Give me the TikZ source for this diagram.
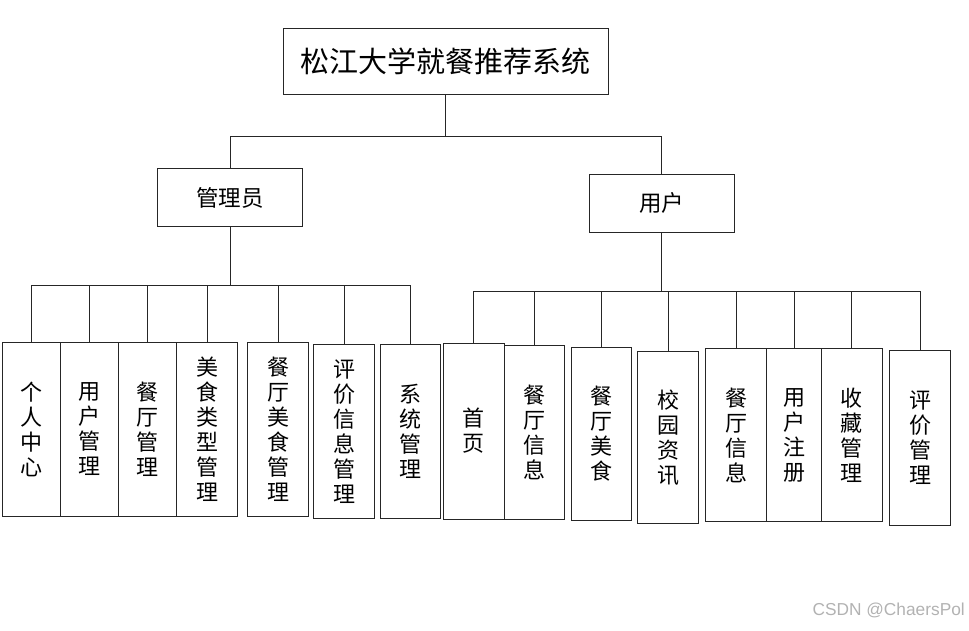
\documentclass[tikz,border=0pt]{standalone}
\usepackage{fontspec}
\setmainfont{Noto Sans CJK SC}
\newfontfamily\markfont{Liberation Sans}
\begin{document}
\begin{tikzpicture}[x=1pt,y=-1pt,
	box/.style={draw=black!85, line width=0.9pt, inner sep=0pt, align=center},
	leaf/.style={box, font=\fontsize{22}{25}\selectfont},
	link/.style={draw=black!85, line width=0.9pt}]
	\useasboundingbox (0,0) rectangle (969,630);
	
	\node[box, minimum width=325, minimum height=66, font=\fontsize{29}{32}\selectfont] (root) at (445.8,61.2) {松江大学就餐推荐系统};
	\node[box, minimum width=145, minimum height=58, font=\fontsize{22.5}{26}\selectfont] (admin) at (230.2,197.9) {管理员};
	\node[box, minimum width=145, minimum height=58, font=\fontsize{22.5}{26}\selectfont] (user) at (661.8,203.3) {用户};
	
	\node[leaf, minimum width=58, minimum height=174] (a1) at (31.7,429.2) {个\\人\\中\\心};
	\node[leaf, minimum width=58, minimum height=174] (a2) at (89.7,429.2) {用\\户\\管\\理};
	\node[leaf, minimum width=58, minimum height=174] (a3) at (147.7,429.2) {餐\\厅\\管\\理};
	\node[leaf, minimum width=60.6, minimum height=174] (a4) at (207,429.2) {美\\食\\类\\型\\管\\理};
	\node[leaf, minimum width=60.6, minimum height=174] (a5) at (278,429.2) {餐\\厅\\美\\食\\管\\理};
	\node[leaf, minimum width=60.6, minimum height=174] (a6) at (344,431.2) {评\\价\\信\\息\\管\\理};
	\node[leaf, minimum width=60.4, minimum height=174] (a7) at (410.5,431.2) {系\\统\\管\\理};
	
	\node[leaf, minimum width=60.7, minimum height=176] (u1) at (473.8,431) {首\\页};
	\node[leaf, minimum width=60.8, minimum height=173.2] (u2) at (534.5,432.4) {餐\\厅\\信\\息};
	\node[leaf, minimum width=60.7, minimum height=172.8] (u3) at (601.4,433.9) {餐\\厅\\美\\食};
	\node[leaf, minimum width=61, minimum height=171.7] (u4) at (668.2,437.6) {校\\园\\资\\讯};
	\node[leaf, minimum width=61, minimum height=173.4] (u5) at (736.2,435) {餐\\厅\\信\\息};
	\node[leaf, minimum width=54.7, minimum height=173.4] (u6) at (794,435) {用\\户\\注\\册};
	\node[leaf, minimum width=60.7, minimum height=173.4] (u7) at (851.8,435) {收\\藏\\管\\理};
	\node[leaf, minimum width=61.4, minimum height=175] (u8) at (920,437.5) {评\\价\\管\\理};
	
	\draw[link] (root.south) -- ++(0,41.7) -| (admin.north);
	\draw[link] (root.south) -- ++(0,41.7) -| (user.north);
	\foreach \n in {a1,a2,a3,a4,a5,a6,a7}
		\draw[link] (admin.south) -- ++(0,57.8) -| (\n.north);
	\foreach \n in {u1,u2,u3,u4,u5,u6,u7,u8}
		\draw[link] (user.south) -- ++(0,58.5) -| (\n.north);
	
	\node[font=\markfont\fontsize{17.3}{19}\selectfont, text=black!30] (mark) at (888.7,610) {CSDN @ChaersPol};
\end{tikzpicture}
\end{document}
